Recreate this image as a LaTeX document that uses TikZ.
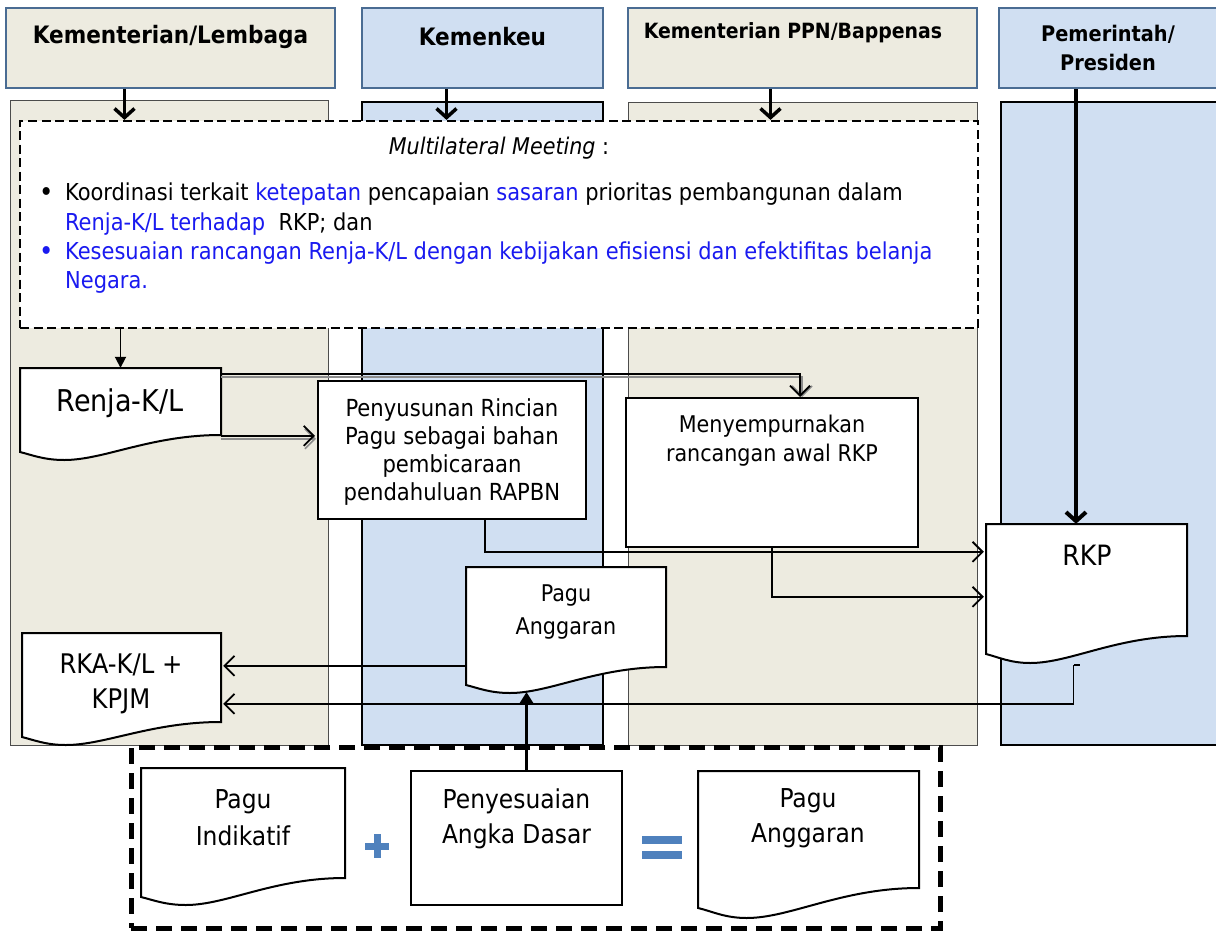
\documentclass[tikz,border=0pt]{standalone}
\usepackage{fontspec}
\setmainfont{DejaVu Sans Condensed}
\usetikzlibrary{arrows.meta,calc}
\definecolor{beige}{HTML}{EDEBE0}
\definecolor{lblue}{HTML}{D0DFF2}
\definecolor{hdrline}{HTML}{4A6C93}
\definecolor{txtblue}{HTML}{1A1AF0}
\definecolor{symblue}{HTML}{4F81BD}
\newcommand\docshape[7]{%
  \path[docline] (#2,#3) -- (#4,#3) -- (#4,#5)
    .. controls ({#4-0.35*(#4-#2)},#5) and ({#2+0.42*(#4-#2)},#7) .. ({#2+0.22*(#4-#2)},#7)
    .. controls ({#2+0.12*(#4-#2)},#7) and ({#2+0.06*(#4-#2)},{#6+3}) .. (#2,#6) -- cycle;
  \node[inner sep=0,minimum width={#4-#2},minimum height={#7-#3}] (#1) at ({(#2+#4)/2},{(#3+#7)/2}) {};%
}
\begin{document}
\begin{tikzpicture}[x=1pt,y=-1pt,
  hdr/.style={draw=hdrline,line width=2pt,inner sep=0,minimum height=80},
  hdrtxt/.style={font=\bfseries\fontsize{24}{28}\selectfont,align=center,inner sep=0},
  lanethin/.style={draw=black!70,line width=0.8pt},
  lanethick/.style={draw=black,line width=2.5pt},
  downarr/.style={line width=3.5pt,-{Straight Barb[length=9pt,width=20pt]}},
  docline/.style={draw=black,line width=2pt,fill=white},
  box/.style={draw=black,line width=2pt,fill=white,inner sep=0},
  btxt/.style={font=\fontsize{23.5}{28}\selectfont,align=center,inner sep=0},
  mtxt/.style={font=\fontsize{23.3}{28}\selectfont,inner sep=0,text height=16pt,text depth=5pt,anchor=west},
  bul/.style={font=\fontsize{27}{28}\selectfont,inner sep=0,anchor=base west},
  conn/.style={line width=1.8pt,-{Straight Barb[length=10pt,width=20pt]}},
  dblshadow/.style={line width=1.6pt,draw=black!45,-{Straight Barb[length=10pt,width=20pt]}},
  fconn/.style={line width=1.8pt,-{Triangle[length=11pt,width=11pt]}}
]
\useasboundingbox (0,0) rectangle (1216,932);
\fill[white] (0,0) rectangle (1216,932);

% headers
\node[hdr,fill=beige,minimum width=329] (hkl) at (170.5,48) {};
\node[hdrtxt] (hkl-t) at (170.5,37) {Kementerian/Lembaga};
\node[hdr,fill=lblue,minimum width=241] (hkem) at (482.5,48) {};
\node[hdrtxt] (hkem-t) at (482.5,37) {Kemenkeu};
\node[hdr,fill=beige,minimum width=349] (hppn) at (802.5,48) {};
\node[hdrtxt,font=\bfseries\fontsize{21}{24}\selectfont] (hppn-t) at (793,33) {Kementerian PPN/Bappenas};
\node[hdr,fill=lblue,minimum width=226] (hpres) at (1112,48) {};
\node[hdrtxt,font=\bfseries\fontsize{21.5}{29}\selectfont] (hpres-t) at (1108,47.5) {Pemerintah/\\Presiden};

% lanes
\path[fill=beige,lanethin] (10,100) rectangle (328,745);
\path[fill=lblue,lanethick] (362,102) rectangle (603,745);
\path[fill=beige,lanethin] (628,102) rectangle (977,745);
\path[fill=lblue,lanethick] (1001,102) rectangle (1230,745);

% meeting box
\node[draw=black,line width=2.2pt,dash pattern=on 9pt off 4.5pt,fill=white,inner sep=0,
      minimum width=958,minimum height=207] (meeting) at (499,224.5) {};
\node[font=\fontsize{23}{28}\selectfont,inner sep=0] (mm-t) at (499,148)
  {\textit{Multilateral Meeting}\ :};
\node[bul] (b1) at (39,201.5) {\textbullet};
\node[mtxt] (l1) at (65,195) {Koordinasi terkait \textcolor{txtblue}{ketepatan} pencapaian \textcolor{txtblue}{sasaran} prioritas pembangunan dalam};
\node[mtxt] (l2) at (65,225) {\textcolor{txtblue}{Renja-K/L terhadap}\ \ RKP; dan};
\node[bul,text=txtblue] (b2) at (39,260.5) {\textbullet};
\node[mtxt,text=txtblue] (l3) at (65,254) {Kesesuaian rancangan Renja-K/L dengan kebijakan efisiensi dan efektifitas belanja};
\node[mtxt,text=txtblue] (l4) at (65,283) {Negara.};

% header arrows
\draw[downarr] ($(hkl.south)+(-46,0)$) -- ($(meeting.north -| hkl.south)+(-46,0)$);
\draw[downarr] ($(hkem.south)+(-36,0)$) -- ($(meeting.north -| hkem.south)+(-36,0)$);
\draw[downarr] ($(hppn.south)+(-32,0)$) -- ($(meeting.north -| hppn.south)+(-32,0)$);

% process boxes
\node[box,minimum width=268,minimum height=138] (penyusun) at (452,450) {};
\node[btxt] (penyusun-t) at (452,452) {Penyusunan Rincian\\Pagu sebagai bahan\\pembicaraan\\pendahuluan RAPBN};
\node[box,minimum width=292,minimum height=149] (menyemp) at (772,472.5) {};
\node[btxt,font=\fontsize{23}{29}\selectfont] (menyemp-t) at (772,440.5) {Menyempurnakan\\rancangan awal RKP};

% documents
\docshape{renja}{20}{368}{221}{435}{452}{460}
\node[font=\fontsize{30}{34}\selectfont,inner sep=0] (renja-t) at (120,403) {Renja-K/L};
\docshape{rkp}{986}{524}{1187}{636}{654}{663}
\node[font=\fontsize{28}{34}\selectfont,inner sep=0] (rkp-t) at (1087,555) {RKP};
\docshape{pagu}{466}{567}{666}{667}{685}{693}
\node[btxt,font=\fontsize{23}{33}\selectfont] (pagu-t) at (566,612) {Pagu\\Anggaran};
\docshape{rka}{22}{633}{221}{722}{737}{745}
\node[btxt,font=\fontsize{27}{35}\selectfont] (rka-t) at (121,683.5) {RKA-K/L +\\KPJM};

% connectors
\draw[fconn] (meeting.south -| renja.north) -- (renja.north);
\draw[dblshadow] ($(renja.north east)+(0,71)$) -- ($(penyusun.west |- renja.north east)+(-1,71)$);
\draw[conn] ($(renja.north east)+(0,68)$) -- ($(penyusun.west |- renja.north east)+(-2,68)$);
\draw[dblshadow] ($(renja.north east)+(0,9)$) -| ($(menyemp.north)+(30,0)$);
\draw[conn] ($(renja.north east)+(0,6)$) -| ($(menyemp.north)+(28,0)$);
\draw[conn] ($(penyusun.south)+(33,0)$) |- ($(rkp.north west)+(-2,28)$);
\draw[conn] (menyemp.south) |- ($(rkp.north west)+(-2,73)$);
\draw[conn] ($(pagu.north west)+(0,99)$) -- ($(rka.north east)+(2,33)$);
\draw[line width=1.8pt] ($(rkp.south)+(-7,2)$) -- ($(rkp.south)+(-13,2)$);
\draw[conn] ($(rkp.south)+(-13,2)$) |- ($(rka.north east)+(2,71)$);
\draw[downarr,line width=4pt] ($(hpres.south)+(-36,0)$) -- ($(rkp.north -| hpres.south)+(-36,0)$);

% bottom group
\node[draw=black,line width=5pt,dash pattern=on 16pt off 9pt,inner sep=0,
      minimum width=809,minimum height=181] (group) at (535.5,837.5) {};
\docshape{pind}{141}{768}{345}{878}{897}{905}
\node[btxt,font=\fontsize{26}{37}\selectfont] (pind-t) at (243,817.5) {Pagu\\Indikatif};
\node[box,minimum width=211,minimum height=134] (peny) at (516.5,838) {};
\node[btxt,font=\fontsize{26}{35}\selectfont] (peny-t) at (516.5,818.5) {Penyesuaian\\Angka Dasar};
\docshape{pang}{698}{771}{919}{888}{908}{918}
\node[btxt,font=\fontsize{26}{35}\selectfont] (pang-t) at (808,818.5) {Pagu\\Anggaran};
\draw[symblue,line width=7pt] (365,846) -- (389,846) (377,834) -- (377,858);
\draw[symblue,line width=8pt] (642,840) -- (682,840) (642,855) -- (682,855);
\draw[fconn,line width=3.5pt,-{Triangle[length=12pt,width=14pt]}] ($(peny.north)+(10,0)$) -- ++(0,-78);
\end{tikzpicture}
\end{document}
